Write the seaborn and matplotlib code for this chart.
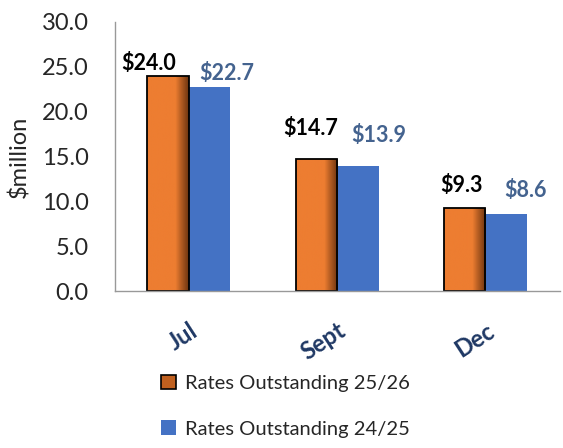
import matplotlib
matplotlib.use("Agg")
import matplotlib.pyplot as plt
import seaborn as sns
import pandas as pd
import numpy as np
from matplotlib.colors import LinearSegmentedColormap
from matplotlib.patches import Patch

months = ["Jul", "Sept", "Dec"]
series_names = ["Rates Outstanding 25/26", "Rates Outstanding 24/25"]
values_2526 = [24.0, 14.7, 9.3]
values_2425 = [22.7, 13.9, 8.6]
yticks = [0, 5, 10, 15, 20, 25, 30]

df = pd.DataFrame({
    "Month": months * 2,
    "Series": [series_names[0]] * 3 + [series_names[1]] * 3,
    "Value": values_2526 + values_2425,
})

sns.set_theme(style="white")
plt.rcParams["font.family"] = ["Lato", "DejaVu Sans"]

ORANGE = "#ED7D31"
BLUE = "#4472C4"
NAVY = "#1F3864"
LBLUE = "#44638F"
TXT = "#262626"

fig = plt.figure(figsize=(5.63, 4.48), dpi=100)
ax = fig.add_axes([0.204, 0.350, 0.79, 0.601])

sns.barplot(data=df, x="Month", y="Value", hue="Series", order=months,
            hue_order=series_names, palette=[ORANGE, BLUE], width=0.56,
            gap=0, saturation=1, ax=ax, legend=False)

orange_bars = ax.patches[:3]
blue_bars = ax.patches[3:6]
cmap = LinearSegmentedColormap.from_list("og", [(0, ORANGE), (0.68, ORANGE), (1, "#6E3510")])
for p in orange_bars:
    p.set_edgecolor("black")
    p.set_linewidth(1.3)
    x0, y0 = p.get_x(), p.get_y()
    w, h = p.get_width(), p.get_height()
    grad = np.linspace(0, 1, 64).reshape(1, -1)
    im = ax.imshow(grad, cmap=cmap, extent=[x0, x0 + w, y0, y0 + h],
                   aspect="auto", zorder=p.get_zorder())
    im.set_clip_path(p)
    p.set_facecolor("none")
    p.set_zorder(p.get_zorder() + 0.1)
for p in blue_bars:
    p.set_edgecolor("none")

ax.set_xlim(-0.5, 2.5)
ax.set_ylim(0, 30)
ax.set_yticks(yticks)
ax.set_yticklabels([f"{t:.1f}" for t in yticks], fontsize=17, color=TXT)
ax.set_ylabel("$million", fontsize=17, color=TXT, labelpad=8)
ax.set_xlabel("")
ax.tick_params(axis="y", length=0, pad=19)
ax.tick_params(axis="x", length=0, pad=20)
for lab in ax.get_xticklabels():
    lab.set_rotation(33)
    lab.set_ha("right")
    lab.set_rotation_mode("anchor")
    lab.set_fontsize(17)
    lab.set_fontweight("bold")
    lab.set_color(NAVY)

for s in ["top", "right"]:
    ax.spines[s].set_visible(False)
for s in ["left", "bottom"]:
    ax.spines[s].set_color("#999999")
    ax.spines[s].set_linewidth(1.0)

off_orange = [(-14, 9), (-4, 22), (-2, 16)]
off_blue = [(12, 10), (15, 22), (14, 17)]
for p, v, off in zip(orange_bars, values_2526, off_orange):
    ax.annotate(f"${v:.1f}", (p.get_x() + p.get_width() / 2, v), xytext=off,
                textcoords="offset points", ha="center", va="center",
                fontsize=15.5, fontweight="bold", color="black")
for p, v, off in zip(blue_bars, values_2425, off_blue):
    ax.annotate(f"${v:.1f}", (p.get_x() + p.get_width() / 2, v), xytext=off,
                textcoords="offset points", ha="center", va="center",
                fontsize=15.5, fontweight="bold", color=LBLUE)

handles = [Patch(facecolor="#C0601F", edgecolor="black", linewidth=1.2),
           Patch(facecolor=BLUE, edgecolor="none")]
fig.legend(handles, series_names, loc="upper left", bbox_to_anchor=(0.272, 0.182),
           frameon=False, fontsize=14.5, handlelength=0.75, handleheight=0.75,
           handletextpad=0.45, labelspacing=1.4, borderaxespad=0, labelcolor=TXT)

fig.savefig("out.png", dpi=100)
